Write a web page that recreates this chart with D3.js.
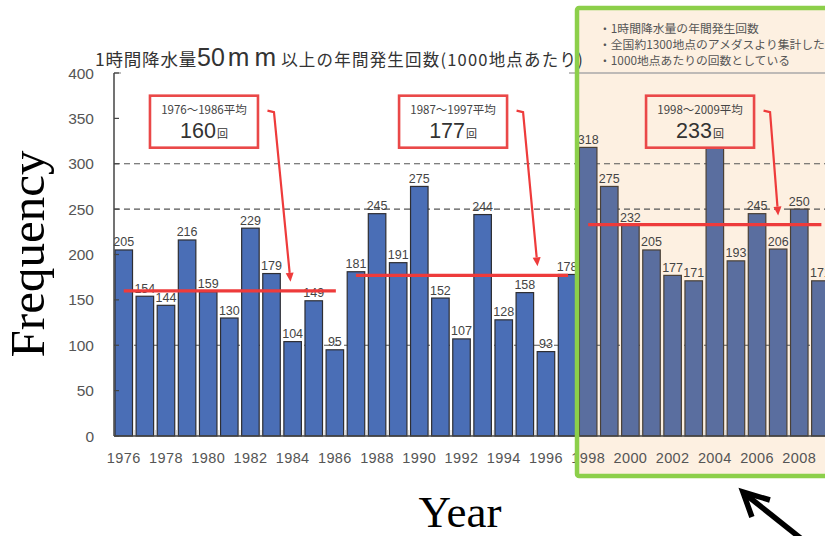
<!DOCTYPE html>
<html>
<head>
<meta charset="utf-8">
<script src="https://cdn.jsdelivr.net/npm/d3@7/dist/d3.min.js"></script>
<style>
  html, body { margin: 0; padding: 0; background: #fff; }
  svg { display: block; }
</style>
</head>
<body>
<svg id="chart" width="825" height="536"></svg>
<script>
// ---- data ----------------------------------------------------------------
const years = [1976, 1977, 1978, 1979, 1980, 1981, 1982, 1983, 1984, 1985, 1986,
               1987, 1988, 1989, 1990, 1991, 1992, 1993, 1994, 1995, 1996, 1997,
               1998, 1999, 2000, 2001, 2002, 2003, 2004, 2005, 2006, 2007, 2008, 2009];
const counts = [205, 154, 144, 216, 159, 130, 229, 179, 104, 149, 95,
                181, 245, 191, 275, 152, 107, 244, 128, 158, 93, 178,
                318, 275, 232, 205, 177, 171, 353, 193, 245, 206, 250, 171];

const yTicks = [0, 50, 100, 150, 200, 250, 300, 350, 400];
const gridValues = [100, 250, 300];
const xTickYears = [1976, 1978, 1980, 1982, 1984, 1986, 1988, 1990, 1992,
                    1994, 1996, 1998, 2000, 2002, 2004, 2006, 2008];

const periodStart = [1976, 1987, 1998];
const periodEnd   = [1986, 1997, 2009];
const periodAvg   = [160, 177, 233];
const periodLabel = ["1976～1986平均", "1987～1997平均", "1998～2009平均"];

const highlightFrom = 1998;
const notes = ["・1時間降水量の年間発生回数",
               "・全国約1300地点のアメダスより集計した",
               "・1000地点あたりの回数としている"];

// ---- layout ----------------------------------------------------------------
const W = 825, H = 536;
const plotLeft = 114, plotTop = 73, plotBottom = 436;
const step = 21.11;
const calloutYear = [1979.8, 1991.6, 2003.3];   // callout box centres (year units)
const arrowTipYear = [1983.9, 1995.6, 2007.0];  // where each callout arrow lands

const svg = d3.select("#chart");

const x = d3.scaleBand()
  .domain(years)
  .range([plotLeft - 0.8, plotLeft - 0.8 + years.length * step])
  .paddingInner(0.17)
  .paddingOuter(0.085);
const bw = x.bandwidth();
// continuous year -> pixel (bar centres)
const xc = d3.scaleLinear()
  .domain([years[0], years[years.length - 1]])
  .range([x(years[0]) + bw / 2, x(years[years.length - 1]) + bw / 2]);

const y = d3.scaleLinear().domain([0, 400]).range([plotBottom, plotTop]);

const peach = "#fdf0e1";
const sans = "'Liberation Sans', Arial, sans-serif";
const cjk = "'Noto Sans CJK JP', 'Noto Sans', sans-serif";

// callout box geometry (shared by the boxes and the value labels they cover)
const boxW = 108, boxTopV = 375, boxH = 52;
const calloutBoxes = calloutYear.map(cy => ({
  x0: xc(cy) - boxW / 2, x1: xc(cy) + boxW / 2,
  y0: y(boxTopV), y1: y(boxTopV) + boxH
}));

// highlighted period background
const hlX = x(highlightFrom) - 2.4;
const hlTop = 8, hlBottom = 476;
svg.append("rect")
  .attr("x", hlX).attr("y", hlTop)
  .attr("width", W - hlX + 10).attr("height", hlBottom - hlTop)
  .attr("fill", peach);

// plot top frame line
svg.append("line")
  .attr("x1", plotLeft).attr("x2", W)
  .attr("y1", y(400)).attr("y2", y(400))
  .attr("stroke", "#a8a8a8").attr("stroke-width", 1.6);

// dashed gridlines
svg.append("g").selectAll("line").data(gridValues).join("line")
  .attr("x1", plotLeft).attr("x2", W)
  .attr("y1", d => y(d)).attr("y2", d => y(d))
  .attr("stroke", "#555").attr("stroke-width", 1.2)
  .attr("stroke-dasharray", "6,4");

// title (its white backing hides the frame line beneath it)
svg.append("rect")
  .attr("x", plotLeft + 7).attr("y", 44)
  .attr("width", hlX - 8 - (plotLeft + 7)).attr("height", 33)
  .attr("fill", "#fff");
const title = svg.append("text")
  .attr("x", 95).attr("y", 66)
  .attr("fill", "#333")
  .attr("font-family", cjk);
title.append("tspan").attr("font-size", 17.5).attr("letter-spacing", 0.8).text("1時間降水量");
title.append("tspan").attr("font-size", 25).attr("font-family", sans).text("50");
title.append("tspan").attr("font-size", 26).attr("font-family", sans)
  .attr("font-weight", 300).attr("letter-spacing", 5).attr("dx", 3).text("mm");
title.append("tspan").attr("font-size", 16.5).attr("letter-spacing", 1.2).text("以上の年間発生回数(1000地点あたり)");

// bars
svg.append("g").selectAll("rect").data(years).join("rect")
  .attr("x", d => x(d))
  .attr("y", (d, i) => y(counts[i]))
  .attr("width", bw)
  .attr("height", (d, i) => y(0) - y(counts[i]))
  .attr("fill", d => d >= highlightFrom ? "#5a6e9f" : "#4a6eb6")
  .attr("stroke", d => d >= highlightFrom ? "#4a4036" : "#2e2e33")
  .attr("stroke-width", 1.2);

// category separators along the baseline
svg.append("g").selectAll("line").data(years.slice(1)).join("line")
  .attr("x1", d => x(d) - (x.step() - bw) / 2)
  .attr("x2", d => x(d) - (x.step() - bw) / 2)
  .attr("y1", y(0)).attr("y2", y(0) - 6)
  .attr("stroke", "#ddd").attr("stroke-width", 1.2);

// y axis
svg.append("line")
  .attr("x1", plotLeft).attr("x2", plotLeft)
  .attr("y1", y(400)).attr("y2", y(0))
  .attr("stroke", "#444").attr("stroke-width", 1.5);
svg.append("g").selectAll("line").data(yTicks).join("line")
  .attr("x1", plotLeft).attr("x2", plotLeft + 5)
  .attr("y1", d => y(d)).attr("y2", d => y(d))
  .attr("stroke", "#444").attr("stroke-width", 1.2);
svg.append("g").selectAll("text").data(yTicks).join("text")
  .attr("x", 94).attr("y", d => y(d) + 5.5)
  .attr("text-anchor", "end")
  .attr("font-family", sans).attr("font-size", 15.5)
  .attr("fill", "#555")
  .text(d => d);

// x axis
svg.append("line")
  .attr("x1", plotLeft).attr("x2", W)
  .attr("y1", y(0)).attr("y2", y(0))
  .attr("stroke", "#444").attr("stroke-width", 1.6);
svg.append("g").selectAll("text").data(xTickYears).join("text")
  .attr("x", d => x(d) + bw / 2)
  .attr("y", 463)
  .attr("text-anchor", "middle")
  .attr("font-family", sans).attr("font-size", 14.5)
  .attr("letter-spacing", 0.4)
  .attr("fill", "#555")
  .text(d => d);

// value labels (a label that would sit under a callout box is hidden by it)
const labelled = years.map((d, i) => ({ year: d, value: counts[i] }))
  .filter(d => {
    const lx = x(d.year) + bw / 2, ly = y(d.value) - 8;
    return !calloutBoxes.some(b => lx > b.x0 && lx < b.x1 && ly > b.y0 && ly < b.y1);
  });
svg.append("g").selectAll("text").data(labelled).join("text")
  .attr("x", d => x(d.year) + bw / 2)
  .attr("y", d => y(d.value) - 3.5)
  .attr("text-anchor", "middle")
  .attr("font-family", sans).attr("font-size", 12.5)
  .attr("fill", "#444")
  .text(d => d.value);

// period averages
svg.append("g").selectAll("line").data(periodAvg).join("line")
  .attr("x1", (d, i) => xc(periodStart[i]))
  .attr("x2", (d, i) => xc(periodEnd[i]) + 1)
  .attr("y1", d => y(d)).attr("y2", d => y(d))
  .attr("stroke", "#ee3b3b").attr("stroke-width", 3.2);

// callouts
periodAvg.forEach((avg, i) => {
  const b = calloutBoxes[i];
  const cx = (b.x0 + b.x1) / 2;
  const inHL = periodStart[i] >= highlightFrom;
  svg.append("rect")
    .attr("x", b.x0).attr("y", b.y0).attr("width", boxW).attr("height", boxH)
    .attr("fill", inHL ? peach : "#fff")
    .attr("stroke", "#ea4848").attr("stroke-width", 2.6);
  svg.append("text")
    .attr("x", cx).attr("y", b.y0 + 18)
    .attr("text-anchor", "middle")
    .attr("font-family", cjk).attr("font-size", 11.5)
    .attr("fill", "#444")
    .text(periodLabel[i]);
  const t = svg.append("text")
    .attr("x", cx).attr("y", b.y0 + 42)
    .attr("text-anchor", "middle")
    .attr("fill", "#333");
  t.append("tspan").attr("font-family", sans).attr("font-size", 21.5).text(avg);
  t.append("tspan").attr("font-family", cjk).attr("font-size", 11).attr("dx", 1).text("回");

  // arrow from the callout down to its average line
  const sx = b.x1 + 9.5, sy = b.y0 + 15;
  const mx = sx + 6.5, my = sy + 1.5;
  const tx = xc(arrowTipYear[i]), ty = y(avg) - 9;
  const ang = Math.atan2(ty - my, tx - mx);
  const hl = 9, hw = 4;
  const bxh = tx - hl * Math.cos(ang), byh = ty - hl * Math.sin(ang);
  svg.append("path")
    .attr("d", `M${sx},${sy}L${mx},${my}L${bxh},${byh}`)
    .attr("fill", "none")
    .attr("stroke", "#ee3b3b").attr("stroke-width", 2.2);
  svg.append("path")
    .attr("d", `M${tx},${ty}L${bxh + hw * Math.sin(ang)},${byh - hw * Math.cos(ang)}L${bxh - hw * Math.sin(ang)},${byh + hw * Math.cos(ang)}Z`)
    .attr("fill", "#ee3b3b");
});

// notes in the highlighted panel
svg.append("g").selectAll("text").data(notes).join("text")
  .attr("x", hlX + 22)
  .attr("y", (d, i) => 33 + i * 16)
  .attr("font-family", cjk).attr("font-size", 11.8)
  .attr("fill", "#555")
  .text(d => d);

// highlight border
svg.append("rect")
  .attr("x", hlX).attr("y", hlTop)
  .attr("width", W - hlX + 10).attr("height", hlBottom - hlTop)
  .attr("rx", 2)
  .attr("fill", "none")
  .attr("stroke", "#8ccf4a").attr("stroke-width", 4.5);

// axis titles
svg.append("text")
  .attr("transform", "translate(44,254) rotate(-90)")
  .attr("text-anchor", "middle")
  .attr("font-family", "'Liberation Serif', 'Times New Roman', serif")
  .attr("font-size", 49)
  .attr("fill", "#000")
  .text("Frequency");
svg.append("text")
  .attr("x", 460).attr("y", 527)
  .attr("text-anchor", "middle")
  .attr("font-family", "'Liberation Serif', 'Times New Roman', serif")
  .attr("font-size", 45)
  .attr("fill", "#000")
  .text("Year");

// pointer toward the highlighted period
const pTipX = xc(2005.33), pTipY = hlBottom + 16;
svg.append("path")
  .attr("d", `M${pTipX + 27},${pTipY + 8}L${pTipX},${pTipY}L${pTipX + 9},${pTipY + 25}`)
  .attr("fill", "none").attr("stroke", "#000")
  .attr("stroke-width", 5.5).attr("stroke-linejoin", "miter");
svg.append("line")
  .attr("x1", pTipX + 1).attr("y1", pTipY + 1)
  .attr("x2", pTipX + 70).attr("y2", pTipY + 56)
  .attr("stroke", "#000").attr("stroke-width", 5.5);
</script>
</body>
</html>
